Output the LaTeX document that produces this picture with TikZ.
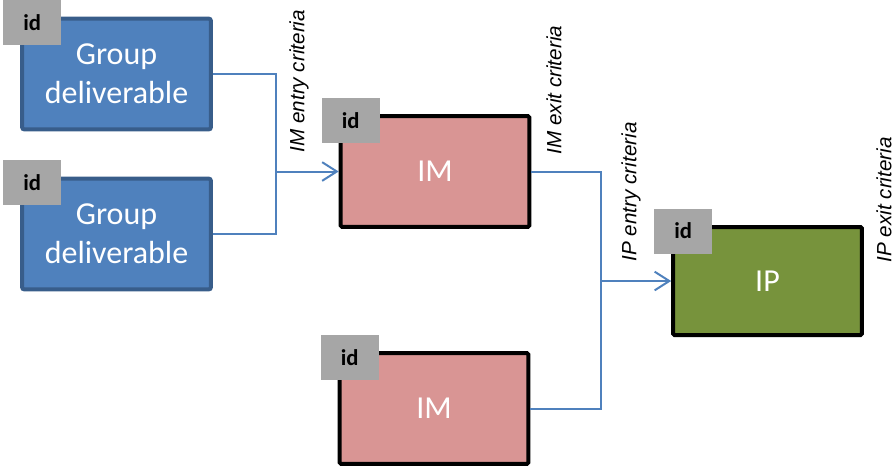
\documentclass[tikz,border=0pt]{standalone}
\usepackage{fontspec}
\setmainfont{Carlito}
\newfontfamily\labelfont{Liberation Sans}
\usepackage{xcolor}
\usetikzlibrary{arrows.meta,positioning,calc}
\definecolor{gdfill}{HTML}{4F81BD}
\definecolor{gdline}{HTML}{385D8A}
\definecolor{imfill}{HTML}{D99594}
\definecolor{ipfill}{HTML}{77933C}
\definecolor{tagfill}{HTML}{A6A6A6}
\definecolor{wire}{HTML}{4F81BD}

\begin{document}
\begin{tikzpicture}[x=0.75pt, y=-0.75pt,
				box/.style={rectangle, line width=3pt, inner sep=0pt, minimum width=141.5pt, minimum height=83pt, align=center, text=white, font=\fontsize{24}{29}\selectfont},
				gdbox/.style={box, draw=gdline, fill=gdfill, rounded corners=1.5pt},
				imbox/.style={box, draw=black, fill=imfill, rounded corners=1pt},
				ipbox/.style={box, draw=black, fill=ipfill, rounded corners=1pt, minimum height=81pt},
				tag/.style={rectangle, fill=tagfill, minimum width=43.5pt, minimum height=33.75pt, inner sep=0pt, font=\bfseries\fontsize{17}{19}\selectfont},
				crit/.style={rotate=90, anchor=west, inner sep=1pt, font=\labelfont\itshape\fontsize{15.5}{18}\selectfont},
				arrow/.style={-{Straight Barb[length=11pt, width=14pt, line width=1.5pt]}, line width=1.5pt, draw=wire},
				wireline/.style={line width=1.5pt, draw=wire}]
				
				\useasboundingbox (0,0) rectangle (895,469);
				
				\node[gdbox] (gd1) at (116.5,74) {Group\\deliverable};
				\node[gdbox] (gd2) at (116.5,234) {Group\\deliverable};
				\node[imbox] (im1) at (435,171.5) {IM};
				\node[imbox] (im2) at (434,408.5) {IM};
				\node[ipbox] (ip) at (767.5,281) {IP};
				
				\node[tag] (gd1id) at ($(gd1.north west)+(12,6)$) {id};
				\node[tag] (gd2id) at ($(gd2.north west)+(12,6)$) {id};
				\node[tag] (im1id) at ($(im1.north west)+(12,6)$) {id};
				\node[tag] (im2id) at ($(im2.north west)+(12,6)$) {id};
				\node[tag] (ipid) at ($(ip.north west)+(12,6)$) {id};
				
				\coordinate (imjoin) at (276,171.5);
				\coordinate (ipjoin) at (601,281);
				
				\draw[wireline] (gd1.east) -| (imjoin);
				\draw[wireline] (gd2.east) -| (imjoin);
				\draw[arrow] (imjoin) -- (im1.west);
				\draw[wireline] (im1.east) -| (ipjoin);
				\draw[wireline] (im2.east) -| (ipjoin);
				\draw[arrow] (ipjoin) -- (ip.west);
				
				\node[crit] (imentry) at (299,154) {IM entry criteria};
				\node[crit] (imexit) at (554,156) {IM exit criteria};
				\node[crit] (ipentry) at (631,263) {IP entry criteria};
				\node[crit] (ipexit) at (884,264) {IP exit criteria};
				
			\end{tikzpicture}
\end{document}
